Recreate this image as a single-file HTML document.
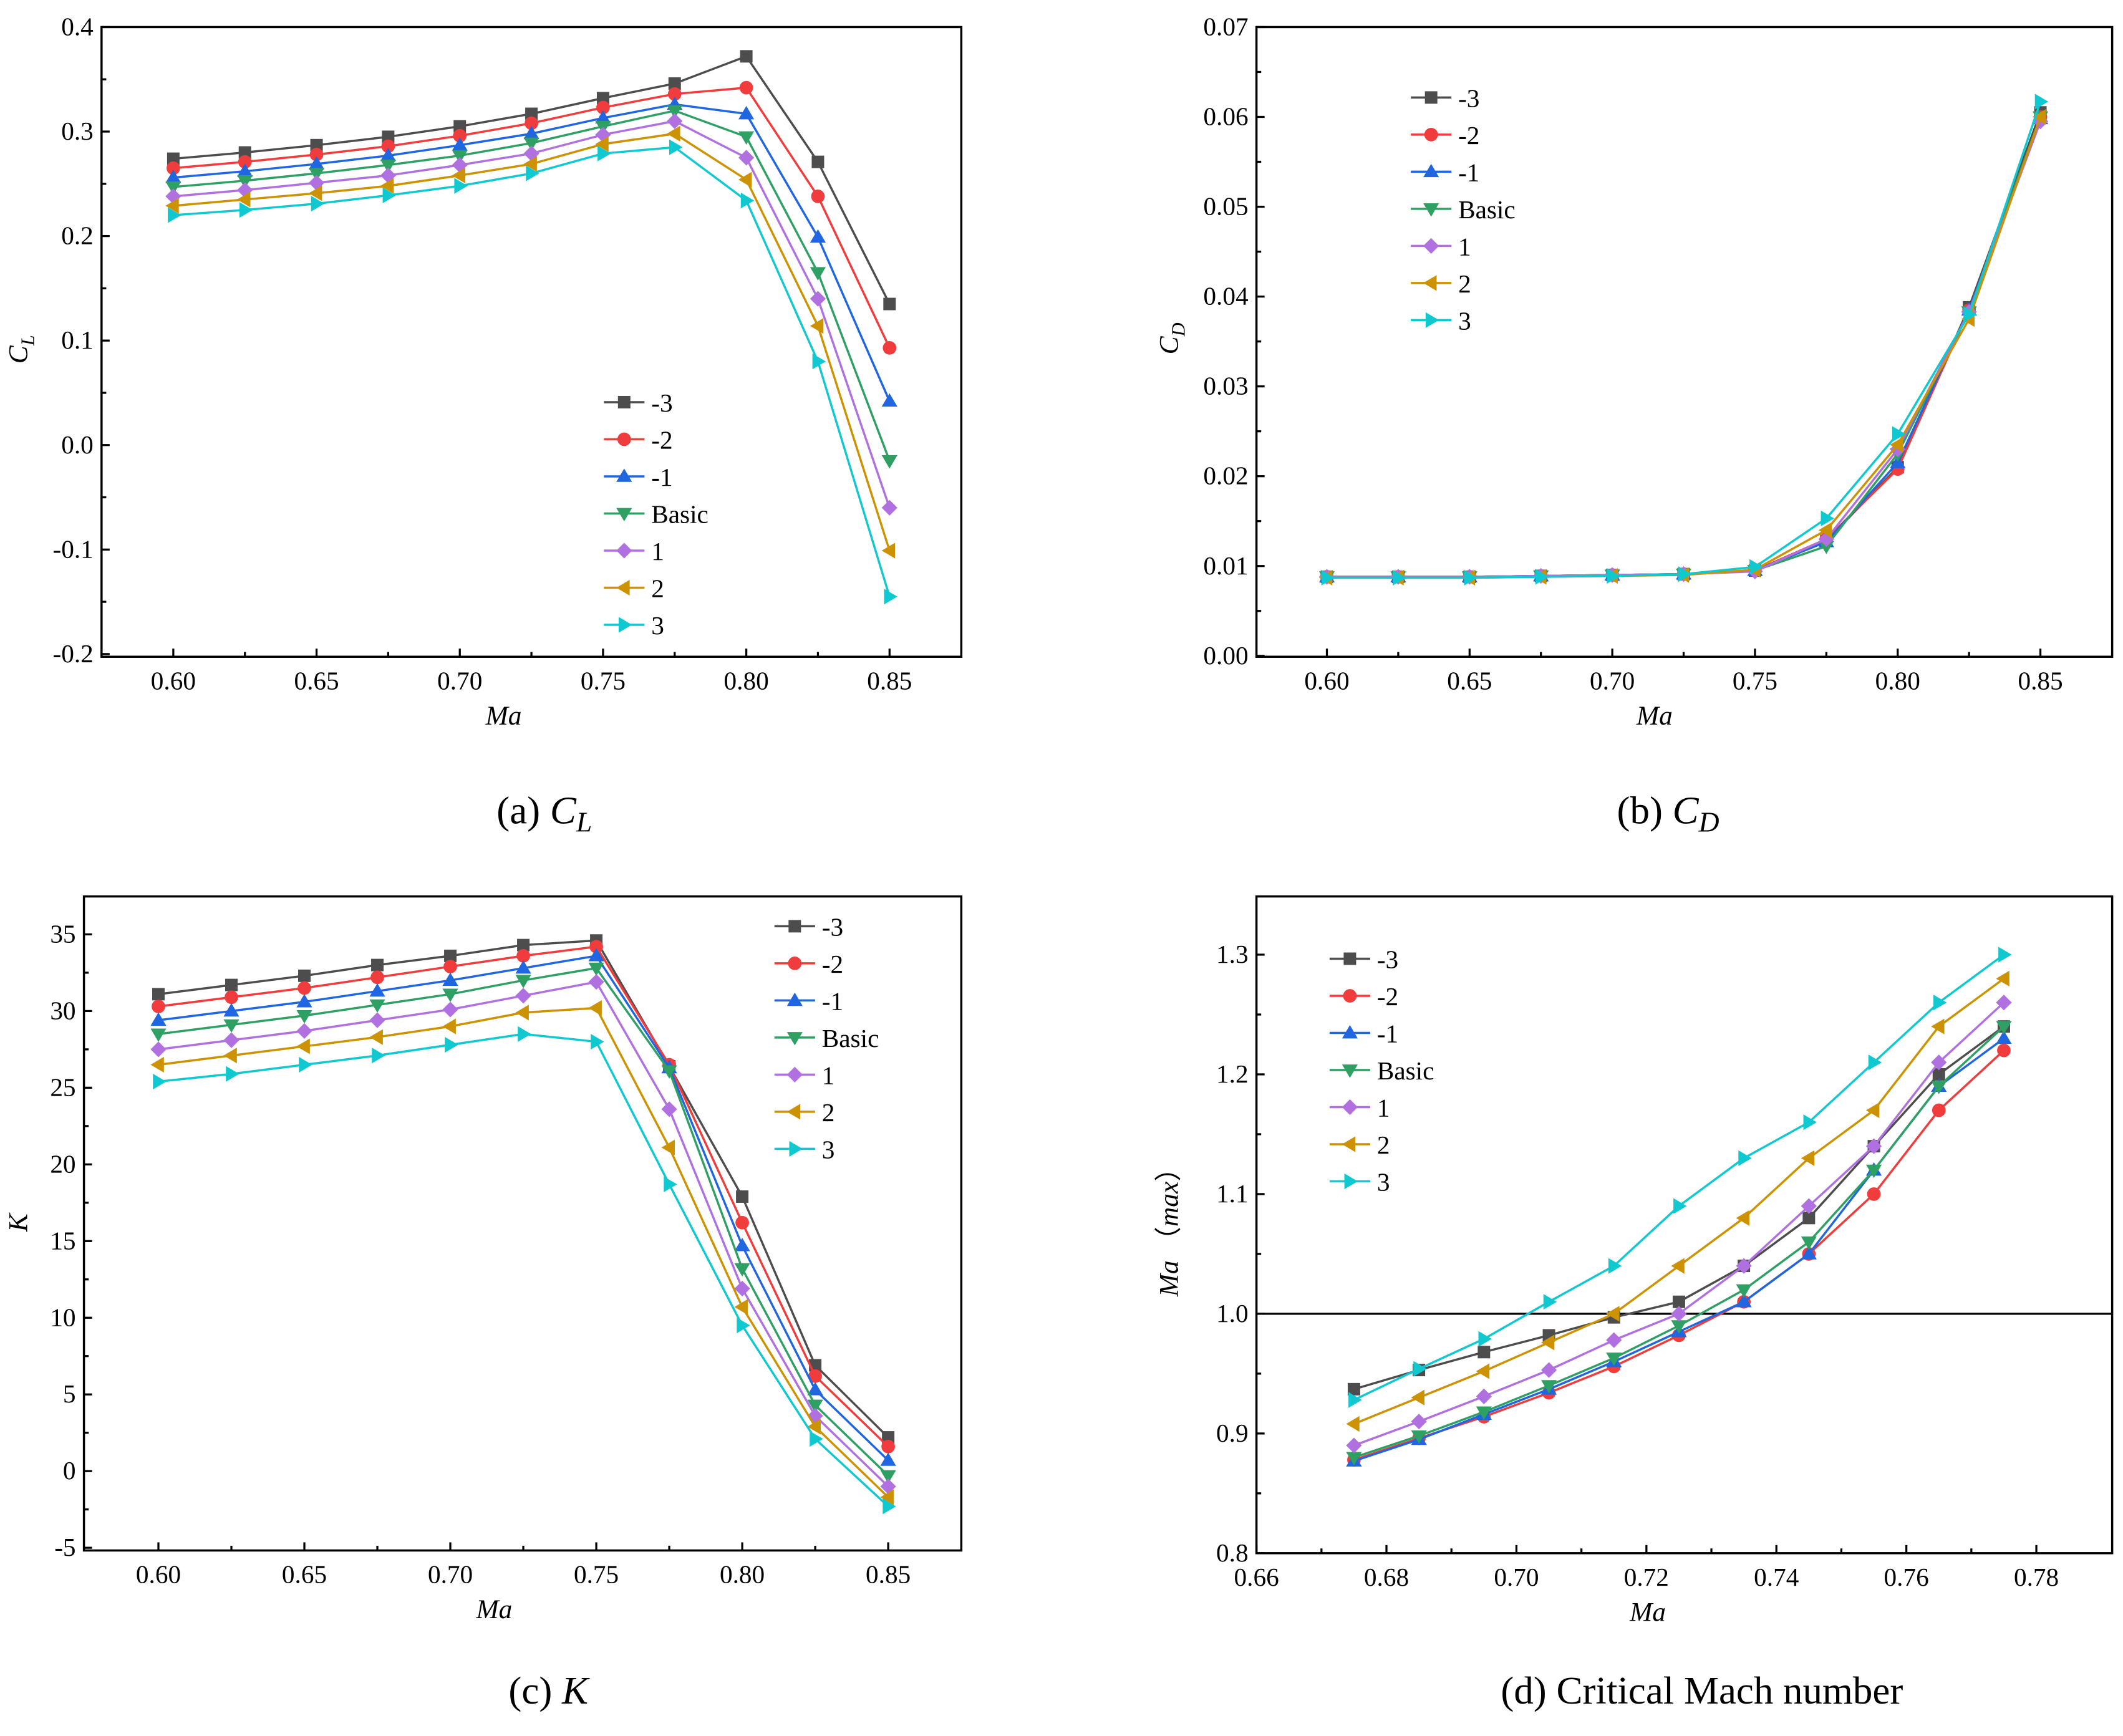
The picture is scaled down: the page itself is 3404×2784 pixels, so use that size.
<!DOCTYPE html>
<html><head><meta charset="utf-8"><style>
html,body{margin:0;padding:0;background:#fff;}
svg{display:block;}
text{font-family:"Liberation Serif","Times New Roman",serif;fill:#000;}
</style></head><body>
<svg id="fig" width="3404" height="2784" viewBox="0 0 1568 1282" preserveAspectRatio="none" xmlns="http://www.w3.org/2000/svg" font-family="Liberation Serif, serif"></svg>
<script>
const seriesNames=['-3','-2','-1','Basic','1','2','3'];
const colors=['#4d4d4d','#f03c3c','#1f66e0','#2ea064','#b070e0','#cc9200','#10c8d0'];
const markers=['square','circle','up','down','diamond','left','right'];
const xA=[0.600,0.625,0.650,0.675,0.700,0.725,0.750,0.775,0.800,0.825,0.850];
const xD=[0.675,0.685,0.695,0.705,0.715,0.725,0.735,0.745,0.755,0.765,0.775];
const clM3=[0.274,0.280,0.287,0.295,0.305,0.317,0.332,0.346,0.372,0.271,0.135];
const clM2=[0.265,0.271,0.278,0.286,0.296,0.308,0.323,0.336,0.342,0.238,0.093];
const clM1=[0.256,0.262,0.269,0.277,0.287,0.298,0.313,0.326,0.317,0.199,0.042];
const clB=[0.247,0.253,0.260,0.268,0.277,0.289,0.305,0.320,0.295,0.165,-0.015];
const clP1=[0.238,0.244,0.251,0.258,0.268,0.279,0.297,0.310,0.275,0.140,-0.060];
const clP2=[0.229,0.235,0.241,0.248,0.258,0.269,0.288,0.298,0.254,0.114,-0.101];
const clP3=[0.220,0.225,0.231,0.239,0.248,0.260,0.279,0.285,0.234,0.080,-0.145];
const cdM3=[0.0088,0.0088,0.0088,0.0089,0.0090,0.0091,0.0095,0.0128,0.0210,0.0388,0.0605];
const cdM2=[0.0088,0.0088,0.0088,0.0089,0.0090,0.0091,0.0095,0.0130,0.0208,0.0385,0.0600];
const cdM1=[0.0088,0.0088,0.0088,0.0089,0.0090,0.0091,0.0095,0.0127,0.0215,0.0385,0.0598];
const cdB=[0.0088,0.0088,0.0088,0.0089,0.0090,0.0091,0.0095,0.0122,0.0225,0.0383,0.0600];
const cdP1=[0.0088,0.0088,0.0088,0.0089,0.0090,0.0091,0.0094,0.0130,0.0230,0.0383,0.0595];
const cdP2=[0.0087,0.0087,0.0087,0.0088,0.0089,0.0090,0.0096,0.0140,0.0235,0.0375,0.0600];
const cdP3=[0.0087,0.0087,0.0087,0.0088,0.0089,0.0091,0.0099,0.0153,0.0247,0.0380,0.0617];
const kM3=[31.1,31.7,32.3,33.0,33.6,34.3,34.6,26.4,17.9,6.9,2.2];
const kM2=[30.3,30.9,31.5,32.2,32.9,33.6,34.2,26.5,16.2,6.2,1.6];
const kM1=[29.4,30.0,30.6,31.3,32.0,32.8,33.6,26.3,14.7,5.3,0.7];
const kB=[28.5,29.1,29.7,30.4,31.1,32.0,32.8,26.1,13.2,4.3,-0.3];
const kP1=[27.5,28.1,28.7,29.4,30.1,31.0,31.9,23.6,11.9,3.6,-1.0];
const kP2=[26.5,27.1,27.7,28.3,29.0,29.9,30.2,21.1,10.7,2.9,-1.7];
const kP3=[25.4,25.9,26.5,27.1,27.8,28.5,28.0,18.7,9.5,2.1,-2.3];
const mM3=[0.937,0.953,0.968,0.982,0.997,1.010,1.040,1.080,1.140,1.200,1.240];
const mM2=[0.878,0.896,0.914,0.934,0.956,0.982,1.010,1.050,1.100,1.170,1.220];
const mM1=[0.877,0.895,0.916,0.937,0.960,0.985,1.010,1.050,1.120,1.190,1.230];
const mB=[0.880,0.898,0.918,0.940,0.963,0.990,1.020,1.060,1.120,1.190,1.240];
const mP1=[0.890,0.910,0.931,0.953,0.978,1.000,1.040,1.090,1.140,1.210,1.260];
const mP2=[0.908,0.930,0.952,0.976,1.000,1.040,1.080,1.130,1.170,1.240,1.280];
const mP3=[0.928,0.954,0.979,1.010,1.040,1.090,1.130,1.160,1.210,1.260,1.300];
const ticksA_y=['-0.2','-0.1','0.0','0.1','0.2','0.3','0.4'];
const ticksA_x=['0.60','0.65','0.70','0.75','0.80','0.85'];
const ticksB_y=['0.00','0.01','0.02','0.03','0.04','0.05','0.06','0.07'];
const ticksC_y=['-5','0','5','10','15','20','25','30','35'];
const ticksD_y=['0.8','0.9','1.0','1.1','1.2','1.3'];
const ticksD_x=['0.66','0.68','0.70','0.72','0.74','0.76','0.78'];

const svg=document.getElementById('fig');
const NS='http://www.w3.org/2000/svg';
const FF='Liberation Serif, serif';
function el(tag,attrs,parent){const e=document.createElementNS(NS,tag);for(const k in attrs)e.setAttribute(k,attrs[k]);if(tag==='text')e.setAttribute('font-family',FF);(parent||svg).appendChild(e);return e;}
function lin(d0,d1,r0,r1){return v=>r0+(v-d0)/(d1-d0)*(r1-r0);}

function marker(g,type,x,y,c){
  const s=4.6;let m;
  if(type==='square')m=el('rect',{x:x-s,y:y-s,width:2*s,height:2*s,fill:c},g);
  else if(type==='circle')m=el('circle',{cx:x,cy:y,r:s+0.4,fill:c},g);
  else{let p;const r=s+1.2;
    if(type==='up')p=[[x,y-r],[x-r,y+r*0.7],[x+r,y+r*0.7]];
    if(type==='down')p=[[x,y+r],[x-r,y-r*0.7],[x+r,y-r*0.7]];
    if(type==='left')p=[[x-r,y],[x+r*0.7,y-r],[x+r*0.7,y+r]];
    if(type==='right')p=[[x+r,y],[x-r*0.7,y-r],[x-r*0.7,y+r]];
    if(type==='diamond')p=[[x,y-r],[x+r,y],[x,y+r],[x-r,y]];
    m=el('polygon',{points:p.map(q=>q.join(',')).join(' '),fill:c},g);}
  
  
}

function panel(cfg){
  const g=el('g',{});
  
  
  const X=lin(cfg.xd[0],cfg.xd[1],cfg.box[0],cfg.box[2]);
  const Y=lin(cfg.yd[0],cfg.yd[1],cfg.box[3],cfg.box[1]);
  const [L,T,R,B]=cfg.box;
  cfg.yt.forEach(t=>{const v=parseFloat(t),y=Y(v);
    el('line',{x1:L,x2:L+6,y1:y,y2:y,stroke:'#000','stroke-width':1.5},g);
    const tx=el('text',{x:L-6,y:y+6,'font-size':19,'text-anchor':'end'},g);tx.textContent=t;
    
  });
  for(let i=0;i<cfg.yt.length-1;i++){const v=(parseFloat(cfg.yt[i])+parseFloat(cfg.yt[i+1]))/2;const y=Y(v);
    el('line',{x1:L,x2:L+3.5,y1:y,y2:y,stroke:'#000','stroke-width':1.5},g);}
  cfg.xt.forEach(t=>{const v=parseFloat(t),x=X(v);
    el('line',{x1:x,x2:x,y1:B,y2:B-6,stroke:'#000','stroke-width':1.5},g);
    const tx=el('text',{x:x,y:B+24,'font-size':19,'text-anchor':'middle'},g);tx.textContent=t;
    
  });
  for(let i=0;i<cfg.xt.length-1;i++){const v=(parseFloat(cfg.xt[i])+parseFloat(cfg.xt[i+1]))/2;const x=X(v);
    el('line',{x1:x,x2:x,y1:B,y2:B-3.5,stroke:'#000','stroke-width':1.5},g);}
  if(cfg.hline!==undefined){const hl=el('line',{x1:L,x2:R,y1:Y(cfg.hline),y2:Y(cfg.hline),stroke:'#000','stroke-width':1.5},g);
    }
  cfg.series.forEach((s,i)=>{
    const sg=el('g',{},g);
    
    
    el('polyline',{points:s.map((v,j)=>X(cfg.x[j])+','+Y(v)).join(' '),fill:'none',stroke:colors[i],'stroke-width':1.6},sg);
    s.forEach((v,j)=>marker(sg,markers[i],X(cfg.x[j]),Y(v),colors[i]));
  });
  const fr=el('rect',{x:L,y:T,width:R-L,height:B-T,fill:'none',stroke:'#000','stroke-width':1.6},g);
  
  const lg=el('g',{},g);
  
  
  seriesNames.forEach((n,i)=>{const y=cfg.leg[1]+i*27.4,x=cfg.leg[0];
    const eg=el('g',{},lg);
    
    
    el('line',{x1:x,x2:x+30,y1:y,y2:y,stroke:colors[i],'stroke-width':1.6},eg);
    marker(eg,markers[i],x+15,y,colors[i]);
    const t=el('text',{x:x+35,y:y+7,'font-size':19},eg);t.textContent=n;});
  const xt=el('text',{x:cfg.xtitle,y:B+50,'font-size':20,'font-style':'italic','text-anchor':'middle'},g);xt.textContent='Ma';
  
  const yt=el('text',{transform:`translate(${cfg.ytitle[0]},${cfg.ytitle[1]}) rotate(-90)`,'font-size':20,'text-anchor':'middle'},g);
  yt.innerHTML=cfg.ytitleHTML;
  
  const cap=el('text',{x:cfg.cap[0],y:cfg.cap[1],'font-size':29,'text-anchor':'middle'},g);cap.innerHTML=cfg.capHTML;
  
}

panel({name:'chart-cl',box:[75,20,710,485],xd:[0.6-53/105.8*0.05,0.85+53/105.8*0.05],yd:[-0.2-2/772,0.4],
  x:xA,series:[clM3,clM2,clM1,clB,clP1,clP2,clP3],yt:ticksA_y,xt:ticksA_x,leg:[446,297],xtitle:372,
  ytitle:[20,258],ytitleHTML:'<tspan font-style="italic">C</tspan><tspan font-style="italic" font-size="14" dy="5">L</tspan>',
  cap:[402,608],capHTML:'(a) <tspan font-style="italic">C</tspan><tspan font-style="italic" font-size="21" dy="6">L</tspan>'});
panel({name:'chart-cd',box:[928,20,1560,485],xd:[0.6-52/105.4*0.05,0.85+53/105.4*0.05],yd:[-0.0001,0.07],
  x:xA,series:[cdM3,cdM2,cdM1,cdB,cdP1,cdP2,cdP3],yt:ticksB_y,xt:ticksA_x,leg:[1042,72],xtitle:1222,
  ytitle:[870,250],ytitleHTML:'<tspan font-style="italic">C</tspan><tspan font-style="italic" font-size="14" dy="5">D</tspan>',
  cap:[1232,608],capHTML:'(b) <tspan font-style="italic">C</tspan><tspan font-style="italic" font-size="21" dy="6">D</tspan>'});
panel({name:'chart-k',box:[62,662,710,1145],xd:[0.6-55/107.8*0.05,0.85+54/107.8*0.05],yd:[-5-2/11.32,35+28/11.32],
  x:xA,series:[kM3,kM2,kM1,kB,kP1,kP2,kP3],yt:ticksC_y,xt:ticksA_x,leg:[572,684],xtitle:365,
  ytitle:[20,903],ytitleHTML:'<tspan font-style="italic">K</tspan>',
  cap:[405,1258],capHTML:'(c) <tspan font-style="italic">K</tspan>'});
panel({name:'chart-critical-mach',box:[928,662,1560,1147],xd:[0.66,0.66+632/96*0.02],yd:[0.8,0.8+485/884],
  x:xD,series:[mM3,mM2,mM1,mB,mP1,mP2,mP3],yt:ticksD_y,xt:ticksD_x,leg:[982,708],hline:1.0,xtitle:1217,
  ytitle:[870,905],ytitleHTML:'<tspan font-style="italic">Ma</tspan> （<tspan font-style="italic">max</tspan>）',
  cap:[1257,1258],capHTML:'(d) Critical Mach number'});
</script>
</body></html>
